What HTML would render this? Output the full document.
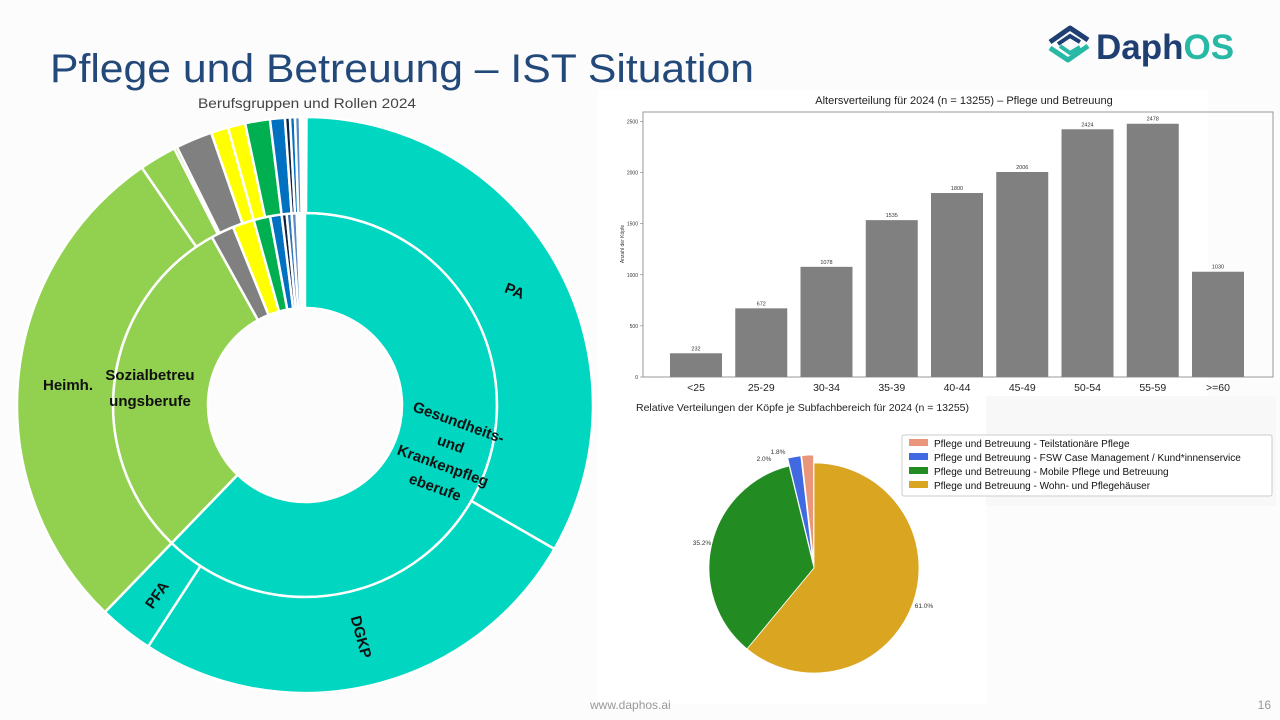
<!DOCTYPE html>
<html><head><meta charset="utf-8">
<style>
html,body{margin:0;padding:0;background:#fcfcfc;}
svg{display:block;font-family:"Liberation Sans",sans-serif;}
</style></head>
<body>
<svg id="s" width="1280" height="720" viewBox="0 0 1280 720" xmlns="http://www.w3.org/2000/svg">
<rect width="1280" height="720" fill="#fcfcfc"/>
<rect x="598" y="90" width="610" height="306" fill="#ffffff"/>
<rect x="598" y="396" width="388" height="308" fill="#ffffff"/>
<rect x="986" y="396" width="290" height="110" fill="#f8f8f8"/>

<text x="50" y="82" font-size="40" fill="#23497a" textLength="704" lengthAdjust="spacingAndGlyphs">Pflege und Betreuung – IST Situation</text>
<text x="307" y="108" font-size="14" fill="#444" text-anchor="middle" textLength="218" lengthAdjust="spacingAndGlyphs">Berufsgruppen und Rollen 2024</text>

<g transform="translate(1044,20)">
  <path d="M6 22 L26 8 L44 20" fill="none" stroke="#1f3f73" stroke-width="5" stroke-linejoin="round"/>
  <path d="M14 24 L26 16 L36 22" fill="none" stroke="#1f3f73" stroke-width="4"/>
  <path d="M6 28 L24 40 L44 26" fill="none" stroke="#27b9a5" stroke-width="5" stroke-linejoin="round"/>
  <path d="M16 26 L26 33 L36 27" fill="none" stroke="#27b9a5" stroke-width="4"/>
  <text x="52" y="39" font-size="35" font-weight="bold" fill="#1f3f73">Daph<tspan fill="#27b9a5">OS</tspan></text>
</g>

<g id="sun"></g>
<g font-weight="bold" font-size="15" fill="#111">
  <text x="515" y="296" text-anchor="middle" transform="rotate(22 515 290)">PA</text>
  <text x="68" y="390" text-anchor="middle">Heimh.</text>
  <text x="150" y="380" text-anchor="middle">Sozialbetreu</text>
  <text x="150" y="406" text-anchor="middle">ungsberufe</text>
  <g transform="rotate(20 445 460)">
    <text x="445" y="425" text-anchor="middle">Gesundheits-</text>
    <text x="445" y="448" text-anchor="middle">und</text>
    <text x="445" y="471" text-anchor="middle">Krankenpfleg</text>
    <text x="445" y="494" text-anchor="middle">eberufe</text>
  </g>
  <text x="157" y="600" text-anchor="middle" transform="rotate(-55 157 595)">PFA</text>
  <text x="361" y="642" text-anchor="middle" transform="rotate(75 361 637)">DGKP</text>
</g>

<text x="964" y="104" font-size="11" fill="#222" text-anchor="middle">Altersverteilung für 2024 (n = 13255) – Pflege und Betreuung</text>
<rect x="643" y="112" width="630" height="265" fill="none" stroke="#999" stroke-width="1"/>
<g id="bars"></g>

<text x="636" y="411" font-size="10.5" fill="#222">Relative Verteilungen der Köpfe je Subfachbereich für 2024 (n = 13255)</text>
<g id="pie"></g>
<text x="778" y="454" font-size="6.5" fill="#333" text-anchor="middle">1.8%</text>
<text x="764" y="461" font-size="6.5" fill="#333" text-anchor="middle">2.0%</text>
<text x="702" y="545" font-size="6.5" fill="#333" text-anchor="middle">35.2%</text>
<text x="924" y="608" font-size="6.5" fill="#333" text-anchor="middle">61.0%</text>
<rect x="902" y="435" width="370" height="61" fill="#fff" stroke="#ccc" rx="2"/>
<g font-size="10" fill="#111">
  <rect x="909" y="439" width="19" height="7" fill="#e9967a"/><text x="934" y="447">Pflege und Betreuung - Teilstationäre Pflege</text>
  <rect x="909" y="453" width="19" height="7" fill="#4169e1"/><text x="934" y="461">Pflege und Betreuung - FSW Case Management / Kund*innenservice</text>
  <rect x="909" y="467" width="19" height="7" fill="#228b22"/><text x="934" y="475">Pflege und Betreuung - Mobile Pflege und Betreuung</text>
  <rect x="909" y="481" width="19" height="7" fill="#daa520"/><text x="934" y="489">Pflege und Betreuung - Wohn- und Pflegehäuser</text>
</g>

<text x="590" y="709" font-size="12" fill="#999">www.daphos.ai</text>
<text x="1271" y="709" font-size="12" fill="#999" text-anchor="end">16</text>
</svg>
<script>
var NS="http://www.w3.org/2000/svg";
function el(tag,attrs,parent,text){var e=document.createElementNS(NS,tag);for(var k in attrs)e.setAttribute(k,attrs[k]);if(text!=null)e.textContent=text;parent.appendChild(e);return e;}
function pt(cx,cy,r,a){var t=a*Math.PI/180;return [cx+r*Math.sin(t),cy-r*Math.cos(t)];}
function arc(cx,cy,r0,r1,a0,a1){var l=(a1-a0)>180?1:0;var p1=pt(cx,cy,r1,a0),p2=pt(cx,cy,r1,a1),p3=pt(cx,cy,r0,a1),p4=pt(cx,cy,r0,a0);
return "M"+p1+" A"+r1+","+r1+" 0 "+l+" 1 "+p2+" L"+p3+" A"+r0+","+r0+" 0 "+l+" 0 "+p4+"Z";}
var sun=document.getElementById("sun"),cx=305,cy=405;
var T="#00d6c0",G="#92d050",Y="#ffff00",GR="#00b050",B="#0070c0",GY="#808080";
var inner=[[0,224,T],[224,331,G],[331,338,GY],[338,344.5,Y],[344.5,349.5,GR],[349.5,353,B],[353,354.5,"#0f2040"],[354.5,356,"#2e75b6"],[356,357.5,"#5b8ac6"],[357.5,359.7,"#fff"]];
var outer=[[0.3,120,T],[120,213,T],[213,224,T],[224,325.5,G],[325.5,333,G],[333,333.6,G],[333.6,341,GY],[341,344.5,Y],[344.5,348,Y],[348,353,GR],[353,356,B],[356,357,"#0f2040"],[357,358,B],[358,359,"#5b8ac6"],[359,359.7,"#fff"]];
inner.forEach(function(s){el("path",{d:arc(cx,cy,97,192,s[0],s[1]),fill:s[2],stroke:"#fff","stroke-width":2.5},sun);});
outer.forEach(function(s){el("path",{d:arc(cx,cy,192,288,s[0],s[1]),fill:s[2],stroke:"#fff","stroke-width":2.5},sun);});
var bars=document.getElementById("bars");var vals=[232,672,1078,1535,1800,2006,2424,2478,1030];var labs=["<25","25-29","30-34","35-39","40-44","45-49","50-54","55-59",">=60"];
var y0=377,sc=255.5/2500;
for(var i=0;i<9;i++){var c=696+i*65.25,h=vals[i]*sc;
el("rect",{x:c-26,y:y0-h,width:52,height:h,fill:"#808080"},bars);
el("text",{x:c,y:y0-h-3,"font-size":5.5,"text-anchor":"middle",fill:"#333"},bars,vals[i]);
el("text",{x:c,y:391,"font-size":10.5,"text-anchor":"middle",fill:"#222"},bars,labs[i]);}
for(var v=0;v<=2500;v+=500){var y=y0-v*sc;el("text",{x:638,y:y+2,"font-size":5,"text-anchor":"end",fill:"#333"},bars,v);el("line",{x1:640,x2:643,y1:y,y2:y,stroke:"#666","stroke-width":0.5},bars);}
el("text",{x:0,y:0,"font-size":5,"text-anchor":"middle",fill:"#333",transform:"translate(624,244) rotate(-90)"},bars,"Anzahl der Köpfe");
var pie=document.getElementById("pie"),pcx=814,pcy=568,R=105;
function wedge(a0,a1,col,off){var m=(a0+a1)/2,ox=off*Math.sin(m*Math.PI/180),oy=-off*Math.cos(m*Math.PI/180);
var p1=pt(pcx+ox,pcy+oy,R,a0),p2=pt(pcx+ox,pcy+oy,R,a1);var l=(a1-a0)>180?1:0;
el("path",{d:"M"+(pcx+ox)+","+(pcy+oy)+" L"+p1+" A"+R+","+R+" 0 "+l+" 1 "+p2+"Z",fill:col,stroke:"#fff","stroke-width":0.8},pie);}
var fr=[0.018,0.020,0.352,0.610],cols=["#e9967a","#4169e1","#228b22","#daa520"],offs=[8,8,0,0];
var a=360;for(var j=0;j<4;j++){var d=fr[j]*360;wedge(a-d,a,cols[j],offs[j]);a-=d;}
</script>
</body></html>
